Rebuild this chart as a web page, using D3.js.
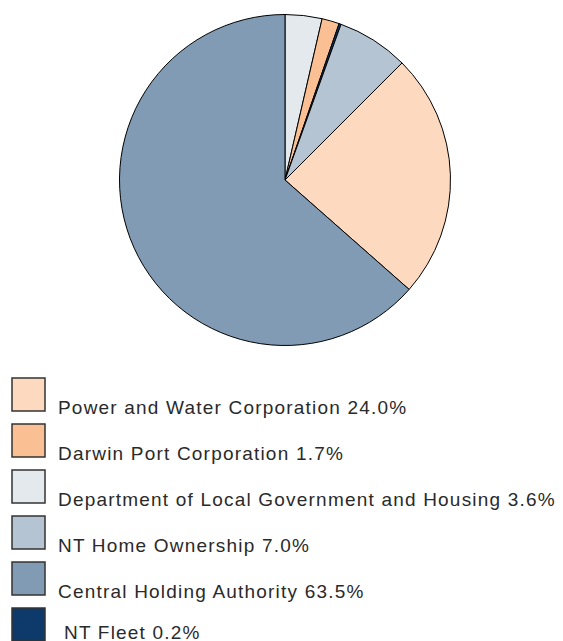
<!DOCTYPE html>
<html>
<head>
<meta charset="utf-8">
<script src="https://cdn.jsdelivr.net/npm/d3@7"></script>
<style>
  body { margin: 0; background: #fff; }
  svg { display: block; }
</style>
</head>
<body>
<div class="d3-content"></div>
<script>
// shared constants
const width = 563;
const height = 641;

// data (clockwise from 12 o'clock)
const sliceNames = ['Department of Local Government and Housing', 'Darwin Port Corporation', 'NT Fleet',
  'NT Home Ownership', 'Power and Water Corporation', 'Central Holding Authority'];
const sliceValues = [3.6, 1.7, 0.2, 7.0, 24.0, 63.5];

// legend order
const legendNames = ['Power and Water Corporation', 'Darwin Port Corporation',
  'Department of Local Government and Housing', 'NT Home Ownership', 'Central Holding Authority', 'NT Fleet'];
const legendLabels = ['Power and Water Corporation 24.0%', 'Darwin Port Corporation 1.7%',
  'Department of Local Government and Housing 3.6%', 'NT Home Ownership 7.0%',
  'Central Holding Authority 63.5%', 'NT Fleet 0.2%'];

const colorScale = d3.scaleOrdinal()
  .domain(legendNames)
  .range(['#fcd9bf', '#fac093', '#e4e9ed', '#b4c4d3', '#809bb3', '#0e3a6b']);

const svg = d3.select('.d3-content')
  .append('svg')
    .attr('width', width)
    .attr('height', height);

// pie
const pieData = d3.pie().sort(null)(sliceValues);
const arc = d3.arc().innerRadius(0).outerRadius(165.5);

svg.append('g')
    .attr('transform', 'translate(285, 180)')
  .selectAll('path')
  .data(pieData)
  .join('path')
    .attr('d', arc)
    .attr('fill', (d, i) => colorScale(sliceNames[i]))
    .attr('stroke', '#000')
    .attr('stroke-width', 1)
    .attr('stroke-linejoin', 'round');

// legend
const legendY = d3.scalePoint()
  .domain(legendNames)
  .range([378, 608]);

const legend = svg.append('g')
  .selectAll('g')
  .data(legendNames)
  .join('g')
    .attr('transform', d => `translate(12, ${legendY(d)})`);

legend.append('rect')
    .attr('width', 33)
    .attr('height', 33)
    .attr('fill', d => colorScale(d))
    .attr('stroke', '#333')
    .attr('stroke-width', 1.5);

legend.append('text')
    .text((d, i) => legendLabels[i])
    .attr('x', (d, i) => i === 5 ? 52 : 46)
    .attr('y', (d, i) => i === 5 ? 30.5 : 36)
    .attr('font-family', 'Liberation Sans, Arial, sans-serif')
    .attr('font-size', 19)
    .attr('letter-spacing', 1.2)
    .attr('fill', '#2a2a2a');
</script>
</body>
</html>
